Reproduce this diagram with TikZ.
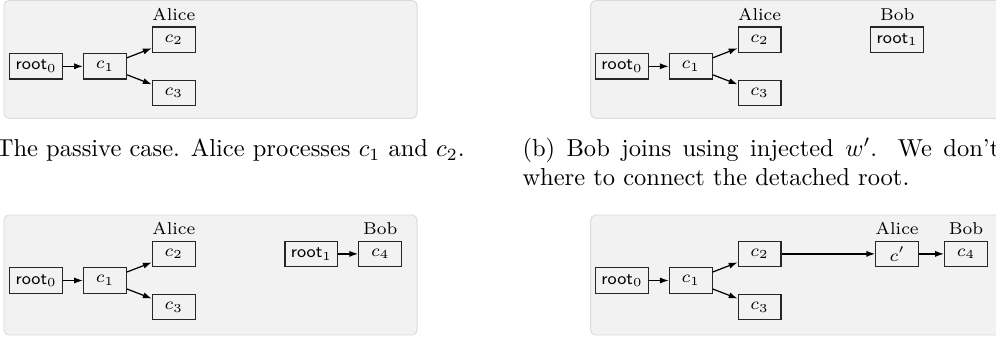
\documentclass[tikz,border=0pt]{standalone}
\usepackage{amsmath}
\usetikzlibrary{arrows.meta}
\tikzset{
    blk/.style={rectangle, draw=black!85, line width=0.5pt, minimum width=17.5pt,
    	minimum height=10.4pt, inner xsep=2.4pt, inner ysep=0pt, font=\scriptsize}
}
\tikzset{
    lbl/.style={above, inner sep=2.3pt, font=\scriptsize}
}
\tikzset{
    arr/.style={-{Latex[length=3.6pt,width=2.5pt]}, line width=0.5pt}
}
\tikzset{
	panel/.style={fill=black!5, draw=black!14, line width=0.4pt, rounded corners=2pt}
}
\tikzset{
	captxt/.style={inner sep=0pt, anchor=base west}
}

\begin{document}
\begin{tikzpicture}[x=0.408pt, y=-0.408pt]
	\useasboundingbox (0,0) rectangle (996,340);
	\clip (0,0) rectangle (996,340);

	% grey backgrounds of the four cases
	\draw[panel] (4,0.5) rectangle (417,118.3);
	\draw[panel] (590.7,0.5) rectangle (1003.7,118.3);
	\draw[panel] (4,215) rectangle (417,335);
	\draw[panel] (590.7,215) rectangle (1003.7,335);

	% (a) passive
	\begin{scope}[shift={(36.2,66.3)}]
	\node (a-r0) [blk] at (0,0) {$\textsf{root}_0$};
	\node (a-c1) [blk] at (68.8,0) {$c_1$};
	\node (a-c2) [blk] at (137.6,-26.6) {$c_2$};
	\node (a-c3) [blk] at (137.6,26.6) {$c_3$};
	\node (a-alice) [lbl] at (a-c2.north) {Alice};

	\draw[arr] (a-r0) -- (a-c1); \draw[arr] (a-c1) -- (a-c2);
	\draw[arr] (a-c1) -- (a-c3);
	\end{scope}

	% (b) Bob joins, root detached
	\begin{scope}[shift={(622,66.3)}]
	\node (b-r0) [blk] at (0,0) {$\textsf{root}_0$};
	\node (b-c1) [blk] at (68.8,0) {$c_1$};
	\node (b-c2) [blk] at (137.6,-26.6) {$c_2$};
	\node (b-c3) [blk] at (137.6,26.6) {$c_3$};
	\node (b-r1) [blk] at (275.2,-26.6) {$\textsf{root}_1$};
	\node (b-alice) [lbl] at (b-c2.north) {Alice};
	\node (b-bob) [lbl] at (b-r1.north) {Bob};

	\draw[arr] (b-r0) -- (b-c1); \draw[arr] (b-c1) -- (b-c2);
	\draw[arr] (b-c1) -- (b-c3);
	\end{scope}

	% (c) Bob keeps his own root
	\begin{scope}[shift={(36.2,280.5)}]
	\node (c-r0) [blk] at (0,0) {$\textsf{root}_0$};
	\node (c-c1) [blk] at (68.8,0) {$c_1$};
	\node (c-c2) [blk] at (137.6,-26.6) {$c_2$};
	\node (c-c3) [blk] at (137.6,26.6) {$c_3$};
	\node (c-r1) [blk] at (275.2,-26.6) {$\textsf{root}_1$};
	\node (c-c4) [blk] at (344,-26.6) {$c_4$};
	\node (c-alice) [lbl] at (c-c2.north) {Alice};
	\node (c-bob) [lbl] at (c-c4.north) {Bob};

	\draw[arr] (c-r0) -- (c-c1); \draw[arr] (c-c1) -- (c-c2);
	\draw[arr] (c-c1) -- (c-c3);
	\draw[arr] (c-r1) -- (c-c4);
	\end{scope}

	% (d) attached through c'
	\begin{scope}[shift={(622,280.5)}]
	\node (d-r0) [blk] at (0,0) {$\textsf{root}_0$};
	\node (d-c1) [blk] at (68.8,0) {$c_1$};
	\node (d-c2) [blk] at (137.6,-26.6) {$c_2$};
	\node (d-c3) [blk] at (137.6,26.6) {$c_3$};
	\node (d-cp) [blk] at (275.2,-26.6) {$c'$};
	\node (d-c4) [blk] at (344,-26.6) {$c_4$};
	\node (d-alice) [lbl] at (d-cp.north) {Alice};
	\node (d-bob) [lbl] at (d-c4.north) {Bob};

	\draw[arr] (d-r0) -- (d-c1); \draw[arr] (d-c1) -- (d-c2);
	\draw[arr] (d-c1) -- (d-c3);
	\draw[arr] (d-c2) -- (d-cp); \draw[arr] (d-cp) -- (d-c4);
	\end{scope}

	% captions
	\node (cap-a) [captxt, anchor=base] at (210.5,156.5)
		{(a) The passive case. Alice processes $c_1$ and $c_2$.};
	\node (cap-b) [captxt, text width=222pt, align=justify] at (522,156.5)
		{(b) Bob joins using injected $w'$. We don't know where to connect the detached root.};
\end{tikzpicture}
\end{document}
